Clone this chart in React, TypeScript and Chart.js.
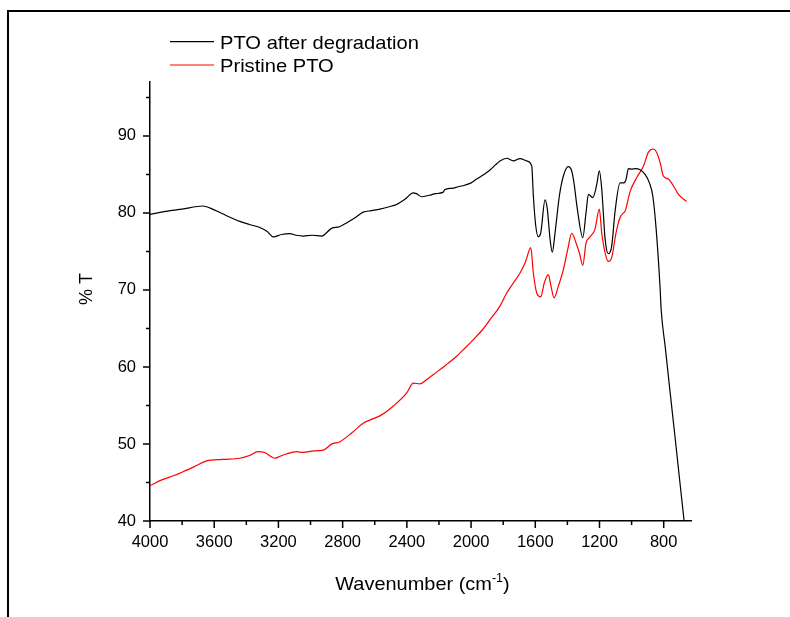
import React, { useEffect, useRef } from 'react';
import { Chart, registerables } from 'chart.js';

Chart.register(...registerables);

// ---- data (wavenumber in cm-1, %T) ----
const BLACK_WN = [4000, 3900, 3800, 3670, 3600, 3520, 3441, 3380, 3316, 3270, 3233, 3180, 3129, 3090, 3045, 2990, 2931, 2869, 2820, 2776, 2720, 2672, 2620, 2568, 2510, 2464, 2410, 2360, 2340, 2308, 2260, 2220, 2173, 2165, 2120, 2080, 2040, 2000, 1965, 1920, 1880, 1850, 1820, 1778, 1737, 1695, 1653, 1622, 1612, 1597, 1581, 1566, 1539, 1525, 1508, 1494, 1477, 1450, 1425, 1394, 1373, 1359, 1338, 1304, 1284, 1269, 1242, 1217, 1201, 1186, 1165, 1145, 1124, 1103, 1072, 1047, 1034, 1020, 999, 978, 947, 916, 889, 868, 847, 822, 816, 790, 760, 730, 700, 673];
const BLACK_T = [79.8, 80.2, 80.5, 80.9, 80.4, 79.6, 78.9, 78.5, 78.1, 77.6, 76.9, 77.2, 77.3, 77.1, 77.0, 77.1, 77.0, 78.0, 78.2, 78.7, 79.4, 80.1, 80.3, 80.5, 80.8, 81.1, 81.8, 82.6, 82.5, 82.1, 82.3, 82.5, 82.7, 83.0, 83.2, 83.4, 83.6, 83.9, 84.4, 85.0, 85.6, 86.2, 86.75, 87.1, 86.75, 87.06, 86.75, 86.1, 82.2, 78.3, 76.9, 77.4, 81.7, 80.5, 76.6, 74.9, 77.4, 82.2, 84.8, 86.0, 85.45, 83.9, 80.5, 76.8, 80.0, 82.4, 82.0, 83.7, 85.45, 83.1, 76.6, 74.7, 75.7, 80.2, 83.9, 83.9, 84.4, 85.75, 85.7, 85.75, 85.6, 85.0, 83.9, 82.2, 77.9, 70.05, 67.5, 62.5, 56.7, 51.0, 45.2, 40.0];

const RED_WN = [4000, 3919, 3850, 3794, 3720, 3648, 3550, 3441, 3380, 3327, 3285, 3250, 3223, 3190, 3150, 3087, 3046, 2980, 2921, 2869, 2817, 2740, 2672, 2620, 2568, 2480, 2402, 2360, 2319, 2280, 2236, 2160, 2090, 2040, 1986, 1930, 1882, 1820, 1778, 1740, 1695, 1660, 1628, 1612, 1591, 1566, 1544, 1519, 1504, 1483, 1456, 1425, 1398, 1373, 1346, 1325, 1304, 1284, 1263, 1228, 1201, 1186, 1165, 1145, 1124, 1097, 1072, 1051, 1041, 1009, 968, 926, 895, 864, 843, 822, 802, 771, 739, 708, 677, 656];
const RED_T = [44.6, 45.4, 45.9, 46.4, 47.1, 47.8, 48.0, 48.15, 48.5, 49.0, 48.9, 48.4, 48.15, 48.4, 48.7, 49.0, 48.9, 49.1, 49.2, 49.98, 50.3, 51.5, 52.7, 53.2, 53.65, 55.0, 56.6, 57.9, 57.8, 58.3, 59.0, 60.2, 61.4, 62.4, 63.55, 64.8, 66.15, 67.9, 69.6, 70.8, 72.2, 73.7, 75.5, 72.2, 69.6, 69.1, 70.9, 72.0, 70.7, 68.97, 70.5, 72.65, 75.25, 77.35, 76.1, 74.8, 73.2, 76.1, 76.8, 77.9, 80.5, 77.4, 74.8, 73.7, 74.2, 77.4, 79.4, 80.0, 80.2, 82.8, 84.6, 86.1, 87.9, 88.3, 87.8, 86.5, 84.8, 84.4, 83.5, 82.4, 81.8, 81.5];

const SERIES_NAMES = ['PTO after degradation', 'Pristine PTO'];
const X_TICKS = [4000, 3600, 3200, 2800, 2400, 2000, 1600, 1200, 800];
const X_MINOR = [3800, 3400, 3000, 2600, 2200, 1800, 1400, 1000];
const Y_TICKS = [40, 50, 60, 70, 80, 90];
const Y_MINOR = [45, 55, 65, 75, 85, 95];
const X_TITLE = 'Wavenumber (cm';
const X_TITLE_SUP = '-1';
const Y_TITLE = '% T';

const FONT = "'Liberation Sans', Arial, sans-serif";

function stretchText(ctx: CanvasRenderingContext2D, text: string, x: number, y: number, sx: number) {
  ctx.save();
  ctx.translate(x, y);
  ctx.scale(sx, 1);
  ctx.fillText(text, 0, 0);
  ctx.restore();
}

const decorPlugin = {
  id: 'decor',
  afterDraw(chart: any) {
    const ctx: CanvasRenderingContext2D = chart.ctx;
    const xs = chart.scales.x;
    const ys = chart.scales.y;
    const area = chart.chartArea;
    ctx.save();
    // outer frame (left & top)
    ctx.fillStyle = '#000';
    ctx.fillRect(7, 10, 783, 2);
    ctx.fillRect(7, 10, 2, 607);

    // ticks
    ctx.strokeStyle = '#000';
    ctx.lineWidth = 1.5;
    ctx.beginPath();
    X_TICKS.forEach((v) => {
      const px = xs.getPixelForValue(v);
      ctx.moveTo(px, area.bottom);
      ctx.lineTo(px, area.bottom + 7);
    });
    X_MINOR.forEach((v) => {
      const px = xs.getPixelForValue(v);
      ctx.moveTo(px, area.bottom);
      ctx.lineTo(px, area.bottom + 4);
    });
    Y_TICKS.forEach((v) => {
      const py = ys.getPixelForValue(v);
      ctx.moveTo(area.left, py);
      ctx.lineTo(area.left - 7, py);
    });
    Y_MINOR.forEach((v) => {
      const py = ys.getPixelForValue(v);
      ctx.moveTo(area.left, py);
      ctx.lineTo(area.left - 4, py);
    });
    ctx.stroke();

    // legend
    const colors = ['#000000', '#ff0000'];
    const ly = [41.7, 65];
    ctx.lineWidth = 1.2;
    SERIES_NAMES.forEach((name, i) => {
      ctx.strokeStyle = colors[i];
      ctx.beginPath();
      ctx.moveTo(170, ly[i]);
      ctx.lineTo(214, ly[i]);
      ctx.stroke();
      ctx.fillStyle = '#000';
      ctx.font = `19px ${FONT}`;
      ctx.textAlign = 'left';
      ctx.textBaseline = 'alphabetic';
      stretchText(ctx, name, 220, ly[i] + 6.8, 1.06);
    });

    // x title with superscript
    const sx = 1.05;
    ctx.fillStyle = '#000';
    ctx.textBaseline = 'alphabetic';
    ctx.textAlign = 'left';
    ctx.font = `19px ${FONT}`;
    const w1 = ctx.measureText(X_TITLE).width * sx;
    const w3 = ctx.measureText(')').width * sx;
    ctx.font = `12px ${FONT}`;
    const w2 = ctx.measureText(X_TITLE_SUP).width * sx;
    const total = w1 + w2 + w3;
    const cx = (area.left + area.right) / 2 + 2;
    const x0 = cx - total / 2;
    const base = 590;
    ctx.font = `19px ${FONT}`;
    stretchText(ctx, X_TITLE, x0, base, sx);
    ctx.font = `12px ${FONT}`;
    stretchText(ctx, X_TITLE_SUP, x0 + w1, base - 8, sx);
    ctx.font = `19px ${FONT}`;
    stretchText(ctx, ')', x0 + w1 + w2, base, sx);

    // y title
    ctx.save();
    ctx.translate(91.5, 289);
    ctx.rotate(-Math.PI / 2);
    ctx.font = `18px ${FONT}`;
    ctx.textAlign = 'center';
    ctx.textBaseline = 'alphabetic';
    ctx.fillText(Y_TITLE, 0, 0);
    ctx.restore();

    ctx.restore();
  },
};

export default function App() {
  const ref = useRef<HTMLCanvasElement | null>(null);
  useEffect(() => {
    if (!ref.current) return;
    const toPts = (xs: number[], ys: number[]) => xs.map((x, i) => ({ x, y: ys[i] }));
    const chart = new Chart(ref.current, {
      type: 'line',
      data: {
        datasets: [
          {
            label: SERIES_NAMES[0],
            data: toPts(BLACK_WN, BLACK_T),
            borderColor: '#000000',
            borderWidth: 1.2,
            pointRadius: 0,
            cubicInterpolationMode: 'monotone',
            fill: false,
          },
          {
            label: SERIES_NAMES[1],
            data: toPts(RED_WN, RED_T),
            borderColor: '#ff0000',
            borderWidth: 1.2,
            pointRadius: 0,
            cubicInterpolationMode: 'monotone',
            fill: false,
          },
        ],
      },
      options: {
        animation: false,
        responsive: false,
        devicePixelRatio: 1,
        layout: { padding: { left: 0, top: 82, right: 99, bottom: 0 } },
        plugins: { legend: { display: false }, tooltip: { enabled: false }, title: { display: false } },
        scales: {
          x: {
            type: 'linear',
            reverse: true,
            min: 630,
            max: 4000,
            afterBuildTicks: (s: any) => {
              s.ticks = X_TICKS.map((v) => ({ value: v }));
            },
            afterFit: (s: any) => {
              s.height = 96;
            },
            grid: { display: true, drawOnChartArea: false, drawTicks: true, tickLength: 7, color: 'rgba(0,0,0,0)' },
            border: { display: true, color: '#000', width: 1.5 },
            ticks: { color: '#000', font: { family: FONT, size: 16.5 }, padding: 5, maxRotation: 0, autoSkip: false, callback: (v: any) => String(v) },
          },
          y: {
            type: 'linear',
            min: 40,
            max: 97,
            afterBuildTicks: (s: any) => {
              s.ticks = Y_TICKS.map((v) => ({ value: v }));
            },
            afterFit: (s: any) => {
              s.width = 150;
            },
            grid: { display: true, drawOnChartArea: false, drawTicks: true, tickLength: 7, color: 'rgba(0,0,0,0)' },
            border: { display: true, color: '#000', width: 1.5 },
            ticks: { color: '#000', font: { family: FONT, size: 16.5 }, padding: 7, autoSkip: false, callback: (v: any) => String(v) },
          },
        },
      },
      plugins: [decorPlugin],
    });
    return () => chart.destroy();
  }, []);
  return (
    <div style={{ position: 'absolute', left: 0, top: 0, width: 790, height: 617, background: '#fff' }}>
      <canvas ref={ref} width={790} height={617} style={{ display: 'block', width: 790, height: 617 }} />
    </div>
  );
}
